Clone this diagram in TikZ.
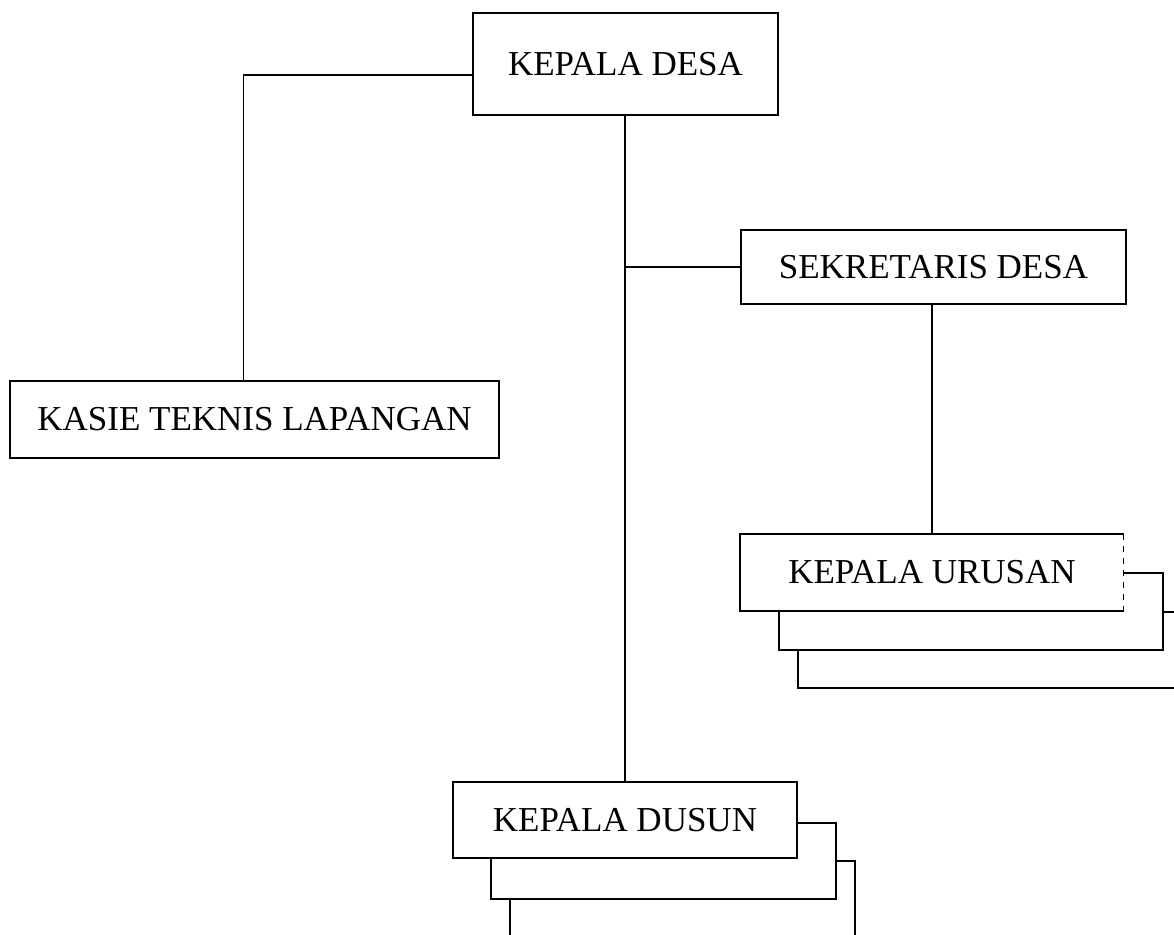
\documentclass[tikz,border=0pt]{standalone}
\usepackage{fontspec}
\setmainfont{Liberation Serif}

\tikzset{
  kotak/.style={draw, fill=white, inner sep=0pt, font=\fontsize{17.5}{20}\selectfont},
  bayang/.style={draw, fill=white, inner sep=0pt}
}

\begin{document}
\begin{tikzpicture}[x=0.5pt, y=-0.5pt, line width=0.8pt]
  \useasboundingbox (0,0) rectangle (1174,935);

  % Kepala desa et kasie
  \node[kotak, minimum width=152.5pt, minimum height=51pt] (desa) at (625.5,64) {KEPALA DESA};
  \node[kotak, minimum width=244.5pt, minimum height=38.5pt] (kasie) at (254.5,419.5) {KASIE TEKNIS LAPANGAN};

  % Sekretaris desa
  \node[kotak, minimum width=192.5pt, minimum height=37pt] (sekdes) at (933.5,267) {SEKRETARIS DESA};

  % Kepala urusan (tumpukan)
  \node[bayang, minimum width=196pt, minimum height=38pt] (urusan3) at (994,650) {};
  \node[bayang, minimum width=192pt, minimum height=38.5pt] (urusan2) at (971,611.5) {};
  \node[kotak, draw=none, minimum width=191pt, minimum height=37.5pt] (urusan) at (932,572.5) {KEPALA URUSAN};
  \draw (urusan.north east) -- (urusan.north west) -- (urusan.south west) -- (urusan.south east);
  \draw[dashed, line width=0.5pt] (urusan.north east) -- (urusan.south east);

  % Kepala dusun (tumpukan)
  \node[bayang, minimum width=172.5pt, minimum height=38pt] (dusun3) at (682.5,899) {};
  \node[bayang, minimum width=172.5pt, minimum height=38pt] (dusun2) at (663.5,861) {};
  \node[kotak, minimum width=172pt, minimum height=38pt] (dusun) at (625,820) {KEPALA DUSUN};

  % Garis penghubung
  \draw ([yshift=-5.5pt]desa.west) -| ([xshift=-5.5pt]kasie.north);
  \draw (desa.south -| dusun.north) -- (dusun.north);
  \draw (dusun.north |- sekdes.west) -- (sekdes.west);
  \draw (sekdes.south -| urusan.north) -- (urusan.north);
\end{tikzpicture}
\end{document}
